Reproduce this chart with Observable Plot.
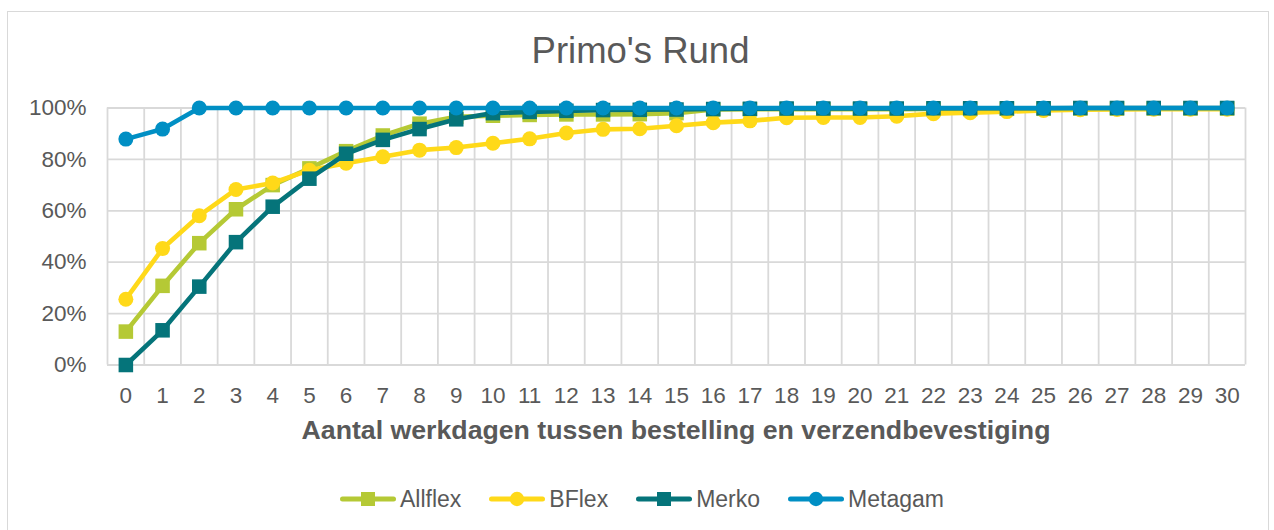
<!DOCTYPE html>
<html>
<head>
<meta charset="utf-8">
<script src="https://cdn.jsdelivr.net/npm/d3@7"></script>
<script src="https://cdn.jsdelivr.net/npm/@observablehq/plot@0.6"></script>
<style>
  html, body { margin: 0; padding: 0; background: #fff; overflow: hidden; }
  #wrap { position: relative; width: 1274px; height: 530px; overflow: hidden; font-family: "Liberation Sans", Arial, sans-serif; color: #595959; }
  #border { position: absolute; left: 7px; top: 11px; width: 1262px; height: 560px; border: 1.5px solid #d9d9d9; box-sizing: border-box; }
  #title { position: absolute; left: 640.5px; top: 33px; transform: translateX(-50%); font-size: 36.5px; line-height: 36px; white-space: nowrap; }
  #xlabel { position: absolute; left: 676px; top: 416.5px; transform: translateX(-50%); font-size: 26.7px; line-height: 26px; font-weight: bold; white-space: nowrap; }
  #chart { position: absolute; left: 0; top: 0; }
  #legend { position: absolute; left: 340px; top: 486px; display: flex; align-items: center; font-size: 23px; line-height: 26px; white-space: nowrap; }
  .item { display: flex; align-items: center; margin-right: 28px; }
  .item svg { margin-right: 4px; }
</style>
</head>
<body>
<div id="wrap">
  <div id="border"></div>
  <div id="chart"></div>
  <div id="title">Primo's Rund</div>
  <div id="xlabel">Aantal werkdagen tussen bestelling en verzendbevestiging</div>
  <div id="legend"></div>
</div>
<script>
// ---- data ----
const days = d3.range(0, 31);
const seriesNames = ["Allflex", "BFlex", "Merko", "Metagam"];
const seriesColors = ["#b5c935", "#ffd919", "#05747a", "#008fc4"];
const seriesSymbols = ["square", "circle", "square", "circle"];
const allflex = [13, 30.8, 47.4, 60.6, 70, 76.5, 83.2, 89.3, 93.9, 96.6, 97, 97.3, 97.5, 97.5, 97.6, 98, 99.4, 99.5, 99.5, 99.5, 99.5, 99.5, 99.6, 99.6, 99.7, 99.7, 99.8, 99.8, 99.8, 99.8, 99.8];
const bflex = [25.6, 45.3, 58.1, 68.3, 70.8, 75.8, 78.5, 81, 83.6, 84.6, 86.3, 88, 90.3, 91.7, 91.9, 93.1, 94.3, 95, 96.2, 96.3, 96.3, 96.8, 97.8, 98.2, 98.6, 99, 99.3, 99.4, 99.5, 99.5, 99.5];
const merko = [0, 13.5, 30.5, 47.8, 61.6, 72.5, 82.2, 87.6, 91.8, 95.6, 98, 98.5, 98.9, 99.2, 99.3, 99.4, 99.6, 99.7, 99.8, 99.8, 99.8, 99.8, 99.9, 99.9, 99.9, 99.9, 100, 100, 100, 100, 100];
const metagam = [87.9, 91.8, 100, 100, 100, 100, 100, 100, 100, 100, 100, 100, 100, 100, 100, 100, 100, 100, 100, 100, 100, 100, 100, 100, 100, 100, 100, 100, 100, 100, 100];
const yTicks = [0, 0.2, 0.4, 0.6, 0.8, 1];

const seriesValues = [allflex, bflex, merko, metagam];
const rows = seriesValues.map((vals, i) =>
  days.map((d, j) => ({ day: d, value: vals[j] / 100, series: seriesNames[i] }))
);
const boundaries = d3.range(-0.5, 31, 1);

const marks = [
  Plot.ruleX(boundaries, { y1: 0, y2: 1, stroke: "#d9d9d9", strokeWidth: 1.8 }),
  Plot.ruleY(yTicks, { x1: -0.5, x2: 30.5, stroke: "#d9d9d9", strokeWidth: 1.8 }),
  Plot.axisX({ ticks: days, tickFormat: d => String(d), tickSize: 0, tickPadding: 22, fontSize: 22.5, fill: "#595959", label: null }),
  Plot.axisY({ ticks: yTicks, tickFormat: d3.format(".0%"), tickSize: 0, tickPadding: 21, fontSize: 22.5, fill: "#595959", label: null })
];
rows.forEach((r, i) => {
  marks.push(Plot.line(r, { x: "day", y: "value", stroke: seriesColors[i], strokeWidth: 4.6, strokeLinejoin: "round", strokeLinecap: "round" }));
  marks.push(Plot.dot(r, { x: "day", y: "value", fill: seriesColors[i], symbol: seriesSymbols[i], r: seriesSymbols[i] === "square" ? 8.2 : 7.5, stroke: "none" }));
});

const chart = Plot.plot({
  width: 1274,
  height: 450,
  marginLeft: 107,
  marginRight: 29,
  marginTop: 107.5,
  marginBottom: 85.5,
  style: { background: "transparent", fontFamily: "'Liberation Sans', Arial, sans-serif", overflow: "visible" },
  x: { domain: [-0.5, 30.5], axis: null },
  y: { domain: [0, 1], axis: null },
  marks
});
document.getElementById("chart").appendChild(chart);

// legend
const legend = document.getElementById("legend");
seriesNames.forEach((name, i) => {
  const item = document.createElement("div");
  item.className = "item";
  const sym = seriesSymbols[i] === "square"
    ? `<rect x="21" y="2" width="14" height="14" fill="${seriesColors[i]}"/>`
    : `<circle cx="28" cy="9" r="7.2" fill="${seriesColors[i]}"/>`;
  item.innerHTML = `<svg width="56" height="18"><line x1="2.5" y1="9" x2="53.5" y2="9" stroke="${seriesColors[i]}" stroke-width="5" stroke-linecap="round"/>${sym}</svg><span>${name}</span>`;
  legend.appendChild(item);
});
</script>
</body>
</html>
